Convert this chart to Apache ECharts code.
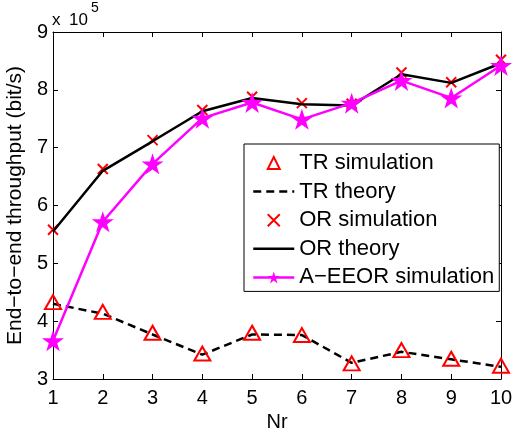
<!DOCTYPE html>
<html>
<head>
<meta charset="utf-8">
<script src="https://cdn.jsdelivr.net/npm/echarts@6/dist/echarts.min.js"></script>
<style>
  html, body { margin: 0; padding: 0; background: #fff; }
  #chart { width: 515px; height: 433px; }
</style>
</head>
<body>
<div id="chart"></div>
<script>
// Number of relays
const nr = [1, 2, 3, 4, 5, 6, 7, 8, 9, 10];

// End-to-end throughput, bit/s
const trSimulation = [433000, 416000, 380000, 344000, 380000, 376000, 327000, 350000, 335000, 323000];
const trTheory     = [430000, 413000, 377000, 342000, 377000, 376000, 328000, 347000, 334000, 321000];
const orSimulation = [558000, 663000, 713000, 765000, 788000, 777000, 776000, 830000, 813000, 852000];
const orTheory     = [555000, 660000, 711000, 763000, 786000, 775000, 773000, 827000, 812000, 846000];
const aeeorSimulation = [366000, 572000, 672000, 751000, 778000, 749000, 777000, 816000, 786000, 842000];

const yTicks = [3, 4, 5, 6, 7, 8, 9];

const FONT = '"Liberation Sans", Arial, Helvetica, sans-serif';
const RED = '#ff0000';
const MAGENTA = '#ff00ff';

const pairs = (ys) => nr.map((x, i) => [x, ys[i]]);

const starPath = 'path://M50,0L61.23,34.55L97.55,34.55L68.17,55.9L79.39,90.45L50,69.1L20.61,90.45L31.83,55.9L2.45,34.55L38.77,34.55Z';
const crossPath = 'path://M0,0L10,10M10,0L0,10';

const chart = echarts.init(document.getElementById('chart'), null, { renderer: 'canvas' });

const tickCommon = { show: true, inside: true, length: 5, lineStyle: { color: '#000', width: 1 } };
const lineCommon = { show: true, lineStyle: { color: '#000', width: 1 } };
// marker-only series: the connecting line is switched off
const noLine = { width: 0, opacity: 0 };

chart.setOption({
  animation: false,
  backgroundColor: '#fff',
  grid: { left: 53, right: 14, top: 32, bottom: 54, containLabel: false, outerBoundsMode: 'none' },
  xAxis: [{
    type: 'value', min: 1, max: 10, interval: 1,
    name: 'Nr', nameLocation: 'middle', nameGap: 32,
    nameTextStyle: { fontFamily: FONT, fontSize: 20, color: '#000' },
    axisLine: lineCommon, axisTick: tickCommon,
    axisLabel: { margin: 9, fontFamily: FONT, fontSize: 20, color: '#000' },
    splitLine: { show: false }
  }, {
    type: 'value', min: 1, max: 10, interval: 1, position: 'top',
    axisLine: lineCommon, axisTick: tickCommon,
    axisLabel: { show: false }, splitLine: { show: false }
  }],
  yAxis: [{
    type: 'value', min: 300000, max: 900000, interval: 100000,
    name: 'End−to−end throughput (bit/s)', nameLocation: 'middle', nameGap: 19,
    nameTextStyle: { fontFamily: FONT, fontSize: 21, color: '#000' },
    axisLine: lineCommon, axisTick: tickCommon,
    axisLabel: {
      margin: 5, fontFamily: FONT, fontSize: 20, color: '#000',
      formatter: (v) => String(yTicks.find(t => t * 100000 === v) ?? v / 100000)
    },
    splitLine: { show: false }
  }, {
    type: 'value', min: 300000, max: 900000, interval: 100000, position: 'right',
    axisLine: lineCommon, axisTick: tickCommon,
    axisLabel: { show: false }, splitLine: { show: false }
  }],
  legend: {
    orient: 'vertical', left: 244, top: 144,
    backgroundColor: '#fff', borderColor: '#000', borderWidth: 1,
    padding: [8, 5, 3, 8], itemWidth: 41, itemHeight: 15, itemGap: 6.6,
    selectedMode: false,
    textStyle: { fontFamily: FONT, fontSize: 22, color: '#000', lineHeight: 22 },
    lineStyle: { width: 'inherit', opacity: 'inherit' },
    itemStyle: { borderWidth: 'inherit' },
    data: [
      { name: 'TR simulation' },
      { name: 'TR theory', itemStyle: { opacity: 0 } },
      { name: 'OR simulation' },
      { name: 'OR theory', itemStyle: { opacity: 0 } },
      { name: 'A−EEOR simulation' }
    ]
  },
  // axis exponent: x 10^5
  graphic: [
    { type: 'text', left: 52, top: 12, style: { text: 'x', font: '17px ' + FONT, fill: '#000' } },
    { type: 'text', left: 69, top: 12, style: { text: '10', font: '17px ' + FONT, fill: '#000' } },
    { type: 'text', left: 91, top: 1, style: { text: '5', font: '14px ' + FONT, fill: '#000' } }
  ],
  series: [
    {
      name: 'TR simulation', type: 'line', data: pairs(trSimulation),
      symbol: 'triangle', symbolSize: [16, 14], showSymbol: true, clip: false,
      itemStyle: { color: 'rgba(0,0,0,0)', borderColor: RED, borderWidth: 2 },
      lineStyle: noLine, z: 3
    },
    {
      name: 'TR theory', type: 'line', data: pairs(trTheory),
      symbol: 'none', clip: false,
      itemStyle: { color: '#000' },
      lineStyle: { color: '#000', width: 2.5, type: [8, 5] }, z: 2
    },
    {
      name: 'OR simulation', type: 'line', data: pairs(orSimulation),
      symbol: crossPath, symbolSize: 10, showSymbol: true, clip: false,
      itemStyle: { color: 'rgba(0,0,0,0)', borderColor: RED, borderWidth: 2 },
      lineStyle: noLine, z: 4
    },
    {
      name: 'OR theory', type: 'line', data: pairs(orTheory),
      symbol: 'none', clip: false,
      itemStyle: { color: '#000' },
      lineStyle: { color: '#000', width: 2.5 }, z: 5
    },
    {
      name: 'A−EEOR simulation', type: 'line', data: pairs(aeeorSimulation),
      symbol: starPath, symbolSize: [22, 21], showSymbol: true, clip: false,
      itemStyle: { color: MAGENTA, borderWidth: 0 },
      lineStyle: { color: MAGENTA, width: 2.5 }, z: 6
    }
  ]
});
</script>
</body>
</html>
